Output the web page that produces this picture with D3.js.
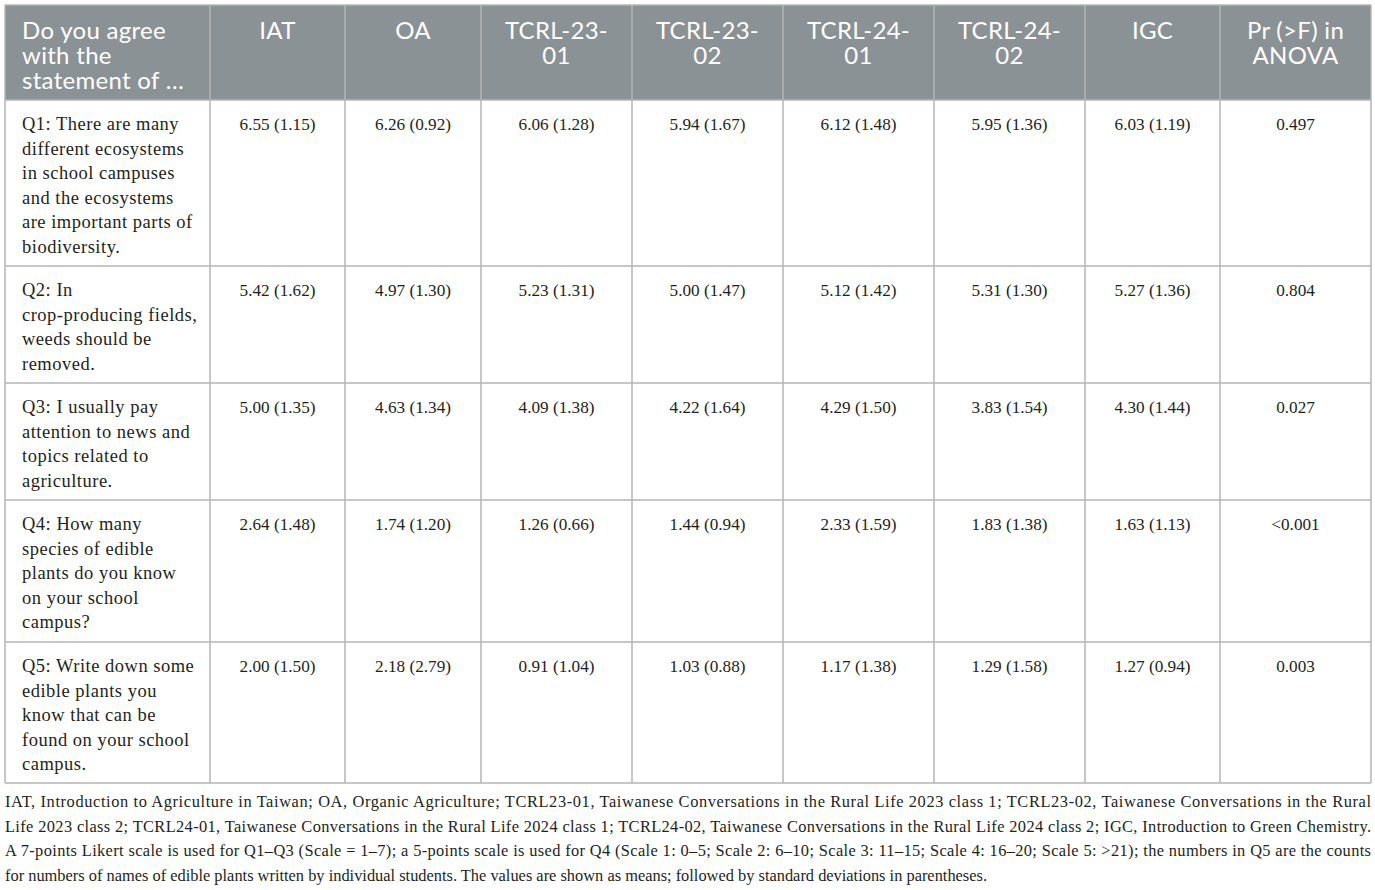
<!DOCTYPE html>
<html>
<head>
<meta charset="utf-8">
<script src="https://cdn.jsdelivr.net/npm/d3@7"></script>
<style>
  html, body { margin: 0; padding: 0; background: #fff; }
  svg { display: block; }
</style>
</head>
<body>
<div id="chart"></div>
<script>
// column headers (line breaks as in the original)
const headers = [
  'Do you agree\nwith the\nstatement of …',
  'IAT', 'OA', 'TCRL-23-\n01', 'TCRL-23-\n02', 'TCRL-24-\n01', 'TCRL-24-\n02', 'IGC', 'Pr (>F) in\nANOVA'
]

const questions = [
  'Q1: There are many\ndifferent ecosystems\nin school campuses\nand the ecosystems\nare important parts of\nbiodiversity.',
  'Q2: In\ncrop-producing fields,\nweeds should be\nremoved.',
  'Q3: I usually pay\nattention to news and\ntopics related to\nagriculture.',
  'Q4: How many\nspecies of edible\nplants do you know\non your school\ncampus?',
  'Q5: Write down some\nedible plants you\nknow that can be\nfound on your school\ncampus.'
]

const groups = ['IAT', 'OA', 'TCRL-23-01', 'TCRL-23-02', 'TCRL-24-01', 'TCRL-24-02', 'IGC']

// means, one array per question, in group order
const means = [
  [6.55, 6.26, 6.06, 5.94, 6.12, 5.95, 6.03],
  [5.42, 4.97, 5.23, 5.00, 5.12, 5.31, 5.27],
  [5.00, 4.63, 4.09, 4.22, 4.29, 3.83, 4.30],
  [2.64, 1.74, 1.26, 1.44, 2.33, 1.83, 1.63],
  [2.00, 2.18, 0.91, 1.03, 1.17, 1.29, 1.27]
]

// standard deviations
const sds = [
  [1.15, 0.92, 1.28, 1.67, 1.48, 1.36, 1.19],
  [1.62, 1.30, 1.31, 1.47, 1.42, 1.30, 1.36],
  [1.35, 1.34, 1.38, 1.64, 1.50, 1.54, 1.44],
  [1.48, 1.20, 0.66, 0.94, 1.59, 1.38, 1.13],
  [1.50, 2.79, 1.04, 0.88, 1.38, 1.58, 0.94]
]

const pValues = ['0.497', '0.804', '0.027', '<0.001', '0.003']

const footnote = [
  'IAT, Introduction to Agriculture in Taiwan; OA, Organic Agriculture; TCRL23-01, Taiwanese Conversations in the Rural Life 2023 class 1; TCRL23-02, Taiwanese Conversations in the Rural',
  'Life 2023 class 2; TCRL24-01, Taiwanese Conversations in the Rural Life 2024 class 1; TCRL24-02, Taiwanese Conversations in the Rural Life 2024 class 2; IGC, Introduction to Green Chemistry.',
  'A 7-points Likert scale is used for Q1\u2013Q3 (Scale = 1\u20137); a 5-points scale is used for Q4 (Scale 1: 0\u20135; Scale 2: 6\u201310; Scale 3: 11\u201315; Scale 4: 16\u201320; Scale 5: >21); the numbers in Q5 are the counts',
  'for numbers of names of edible plants written by individual students. The values are shown as means; followed by standard deviations in parentheses.'
]

// layout
const width = 1375
const height = 890
const marginLeft = 5
const marginTop = 5
const colWidths = [205, 135, 136, 151, 151, 151, 151, 135, 151]
const headerHeight = 95
const rowHeights = [166, 117, 117, 142, 141]
const lineH = 24.6

const headFont = 'Lato, "Open Sans", sans-serif'
const bodyFont = '"Liberation Serif", "DejaVu Serif", serif'
const gridColor = '#b5b5b5'

const colX = [marginLeft, ...d3.cumsum(colWidths).map(d => marginLeft + d)]
const rowY = [marginTop, ...d3.cumsum([headerHeight, ...rowHeights]).map(d => marginTop + d)]
const tableRight = colX[colX.length - 1]
const tableBottom = rowY[rowY.length - 1]

const fmt = d3.format('.2f')

const svg = d3.select('#chart').append('svg')
  .attr('width', width).attr('height', height)

// header band
svg.append('rect')
  .attr('x', marginLeft).attr('y', marginTop)
  .attr('width', tableRight - marginLeft).attr('height', headerHeight)
  .attr('fill', '#8b9295')

// header texts
const gHead = svg.append('g').attr('class', 'header')
headers.forEach((h, i) => {
  const first = i === 0
  const t = gHead.append('text')
    .attr('font-family', headFont)
    .attr('font-size', 24)
    .attr('letter-spacing', 0.3)
    .attr('fill', '#fff')
    .attr('text-anchor', first ? 'start' : 'middle')
  h.split('\n').forEach((line, j) => {
    t.append('tspan')
      .attr('x', first ? colX[0] + 17 : (colX[i] + colX[i + 1]) / 2)
      .attr('y', marginTop + 34 + j * 25)
      .text(line)
  })
})

// body cells
const gBody = svg.append('g').attr('class', 'body')
  .attr('font-family', bodyFont)
  .attr('fill', '#231f20')

questions.forEach((q, r) => {
  const y0 = rowY[r + 1] + 30
  const t = gBody.append('text')
    .attr('font-size', 18.5)
    .attr('letter-spacing', 0.5)
  q.split('\n').forEach((line, j) => {
    t.append('tspan')
      .attr('x', colX[0] + 17)
      .attr('y', y0 + j * lineH)
      .text(line)
  })

  groups.forEach((g, c) => {
    gBody.append('text')
      .attr('x', (colX[c + 1] + colX[c + 2]) / 2)
      .attr('y', y0)
      .attr('font-size', 17.2)
      .attr('text-anchor', 'middle')
      .text(`${fmt(means[r][c])} (${fmt(sds[r][c])})`)
  })

  gBody.append('text')
    .attr('x', (colX[8] + colX[9]) / 2)
    .attr('y', y0)
    .attr('font-size', 17.2)
    .attr('text-anchor', 'middle')
    .text(pValues[r])
})

// grid lines
const gGrid = svg.append('g').attr('class', 'grid')
  .attr('stroke', gridColor).attr('stroke-width', 1.5)

gGrid.selectAll('line.v').data(colX).join('line')
  .attr('class', 'v')
  .attr('x1', d => d).attr('x2', d => d)
  .attr('y1', marginTop).attr('y2', tableBottom)

gGrid.selectAll('line.h').data(rowY).join('line')
  .attr('class', 'h')
  .attr('x1', marginLeft).attr('x2', tableRight)
  .attr('y1', d => d).attr('y2', d => d)

// footnote
const gFoot = svg.append('g').attr('class', 'footnote')
  .attr('font-family', bodyFont)
  .attr('font-size', 16.4)
  .attr('fill', '#231f20')

footnote.forEach((line, i) => {
  const t = gFoot.append('text')
    .attr('x', marginLeft)
    .attr('y', tableBottom + 24 + i * 24.6)
    .text(line)
  if (i < footnote.length - 1) {
    t.attr('textLength', tableRight - marginLeft).attr('lengthAdjust', 'spacing')
  }
})
</script>
</body>
</html>
